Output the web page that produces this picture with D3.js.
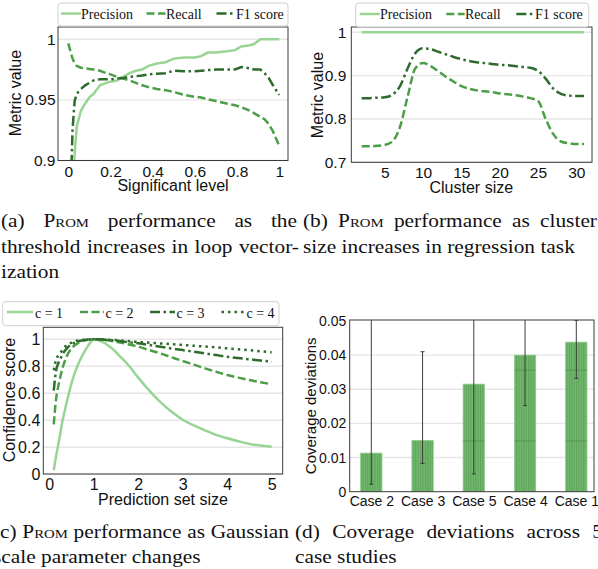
<!DOCTYPE html>
<html><head><meta charset="utf-8">
<script src="https://cdn.jsdelivr.net/npm/d3@7"></script>
<style>
html,body{margin:0;padding:0;background:#fff;}
svg{display:block;}
</style></head>
<body>
<svg id="fig" width="598" height="569"></svg>
<script>
// ---------------- DATA ----------------
// (a) significance level sweep
const sigLevels = [0, 0.01, 0.015, 0.02, 0.03, 0.04, 0.06, 0.08, 0.1, 0.12, 0.15, 0.18, 0.2, 0.23, 0.26, 0.29, 0.32, 0.35, 0.38, 0.42, 0.46, 0.5, 0.55, 0.6, 0.63, 0.66, 0.7, 0.75, 0.79, 0.82, 0.86, 0.88, 0.91, 0.93, 0.95, 0.97, 1.0];
const precisionA = [0.80, 0.83, 0.85, 0.87, 0.905, 0.928, 0.941, 0.947, 0.952, 0.955, 0.962, 0.964, 0.965, 0.966, 0.969, 0.972, 0.974, 0.975, 0.978, 0.980, 0.981, 0.984, 0.985, 0.985, 0.986, 0.989, 0.989, 0.990, 0.991, 0.994, 0.995, 0.996, 1.0, 1.0, 1.0, 1.0, 1.0];
const recallA = [0.9965, 0.99, 0.987, 0.984, 0.980, 0.978, 0.9765, 0.976, 0.9755, 0.975, 0.974, 0.972, 0.971, 0.969, 0.9675, 0.966, 0.964, 0.962, 0.9605, 0.959, 0.958, 0.9565, 0.954, 0.9525, 0.952, 0.9505, 0.949, 0.947, 0.9455, 0.944, 0.941, 0.939, 0.936, 0.934, 0.930, 0.924, 0.912];
const f1A = [0.80, 0.85, 0.895, 0.925, 0.949, 0.955, 0.959, 0.962, 0.964, 0.966, 0.967, 0.967, 0.967, 0.9675, 0.968, 0.969, 0.9695, 0.970, 0.971, 0.9715, 0.972, 0.974, 0.9735, 0.9735, 0.974, 0.9745, 0.975, 0.975, 0.975, 0.977, 0.976, 0.975, 0.975, 0.972, 0.968, 0.962, 0.954];
const xTicksA = [0, 0.2, 0.4, 0.6, 0.8, 1];
const yTicksA = [0.9, 0.95, 1];

// (b) cluster size sweep
const clusterSizes = [2,3,4,5,6,7,8,9,10,11,12,13,14,15,16,17,18,19,20,21,22,23,24,25,26,27,28,29,30,31];
const precisionB = clusterSizes.map(() => 1.0);
const recallB = [0.737, 0.737, 0.738, 0.740, 0.748, 0.782, 0.852, 0.917, 0.929, 0.922, 0.910, 0.897, 0.886, 0.876, 0.870, 0.866, 0.864, 0.862, 0.859, 0.857, 0.855, 0.852, 0.848, 0.842, 0.800, 0.765, 0.748, 0.744, 0.742, 0.742];
const f1B = [0.848, 0.848, 0.849, 0.850, 0.856, 0.876, 0.917, 0.952, 0.963, 0.961, 0.955, 0.949, 0.943, 0.938, 0.934, 0.931, 0.929, 0.927, 0.925, 0.924, 0.922, 0.920, 0.918, 0.911, 0.893, 0.870, 0.858, 0.854, 0.853, 0.853];
const xTicksB = [5, 10, 15, 20, 25, 30];
const yTicksB = [0.7, 0.8, 0.9, 1];

// (c) Gaussian scale parameter
const setSizes = [0.1, 0.15, 0.2, 0.25, 0.3, 0.4, 0.5, 0.6, 0.7, 0.8, 0.9, 1.0, 1.2, 1.4, 1.6, 1.8, 2.0, 2.25, 2.5, 2.75, 3.0, 3.25, 3.5, 3.75, 4.0, 4.25, 4.5, 4.75, 5.0];
const conf_c1 = [0.03, 0.13, 0.217, 0.31, 0.40, 0.545, 0.675, 0.775, 0.852, 0.915, 0.965, 1.0, 0.98, 0.935, 0.87, 0.80, 0.716, 0.62, 0.534, 0.463, 0.404, 0.362, 0.326, 0.292, 0.267, 0.245, 0.225, 0.213, 0.204];
const conf_c2 = [0.37, 0.55, 0.65, 0.725, 0.79, 0.88, 0.933, 0.962, 0.981, 0.992, 0.998, 1.0, 0.997, 0.988, 0.976, 0.961, 0.945, 0.92, 0.895, 0.867, 0.839, 0.812, 0.785, 0.76, 0.735, 0.716, 0.698, 0.682, 0.667];
const conf_c3 = [0.62, 0.765, 0.82, 0.855, 0.89, 0.935, 0.962, 0.978, 0.989, 0.995, 0.999, 1.0, 0.998, 0.993, 0.986, 0.978, 0.97, 0.958, 0.945, 0.932, 0.92, 0.908, 0.895, 0.883, 0.871, 0.861, 0.852, 0.843, 0.834];
const conf_c4 = [0.77, 0.845, 0.88, 0.90, 0.925, 0.958, 0.975, 0.988, 0.994, 0.997, 0.999, 1.0, 0.999, 0.996, 0.992, 0.986, 0.98, 0.975, 0.969, 0.964, 0.958, 0.952, 0.946, 0.94, 0.933, 0.926, 0.919, 0.911, 0.904];
const xTicksC = [0, 1, 2, 3, 4, 5];
const yTicksC = [0, 0.2, 0.4, 0.6, 0.8, 1];
const legendC = ["c = 1", "c = 2", "c = 3", "c = 4"];

// (d) coverage deviations
const cases = ["Case 2", "Case 3", "Case 5", "Case 4", "Case 1"];
const coverageDev = [0.0113, 0.0150, 0.0315, 0.0400, 0.0438];
const errLow = [0.0022, 0.0083, 0.0052, 0.0252, 0.0332];
const errHigh = [0.060, 0.041, 0.060, 0.058, 0.0502];
const innerLevels = [[], [], [0.0149], [0.0149, 0.0356], [0.0149, 0.0356]];
const yTicksD = [0, 0.01, 0.02, 0.03, 0.04, 0.05];

const legendAB = ["Precision", "Recall", "F1 score"];

// captions (one array per printed line)
const captionLines = [
  ["(a)", "Prom", "performance", "as", "the"],
  ["threshold", "increases", "in", "loop", "vector-"],
  ["ization"],
  ["(b)", "Prom", "performance", "as", "cluster"],
  ["size", "increases", "in", "regression", "task"],
  ["(c)", "Prom", "performance", "as", "Gaussian"],
  ["scale", "parameter", "changes"],
  ["(d)", "Coverage", "deviations", "across", "5"],
  ["case", "studies"]
];

// ---------------- STYLE / LAYOUT ----------------
const SANS = "'Liberation Sans', Arial, sans-serif";
const SERIF = "'Liberation Serif', 'Times New Roman', serif";
const colLight = "#98d594", colMid = "#4c9e48", colDark = "#2f6b2c";
const LW = 2.5;
const DASH = "8,3.5", DASHDOT = "10,3.5,2.5,3.5", DOT = "2.5,4";

const svg = d3.select("#fig");
const defs = svg.append("defs");

function makePanel(cfg) {
  const g = svg.append("g");
  const [fx0, fx1] = cfg.frameX, [fy0, fy1] = cfg.frameY;
  const clipId = "clip-" + cfg.id;
  defs.append("clipPath").attr("id", clipId).append("rect")
    .attr("x", fx0).attr("y", fy0).attr("width", fx1 - fx0).attr("height", fy1 - fy0);
  g.append("g").selectAll("line").data(cfg.yTicks).join("line")
    .attr("x1", fx0).attr("x2", fx1)
    .attr("y1", d => cfg.y(d)).attr("y2", d => cfg.y(d))
    .attr("stroke", "#e6e6e6").attr("stroke-width", 1.4);
  const plot = g.append("g").attr("clip-path", `url(#${clipId})`);
  const yAx = g.append("g").attr("transform", `translate(${fx0},0)`)
    .call(d3.axisLeft(cfg.y).tickValues(cfg.yLabels || cfg.yTicks).tickFormat(d => String(d)).tickSize(0).tickPadding(cfg.yPad));
  yAx.select(".domain").remove();
  yAx.attr("font-family", SANS).attr("font-size", cfg.tickFs).attr("color", "#111");
  const xAx = g.append("g").attr("transform", `translate(0,${fy1})`)
    .call(d3.axisBottom(cfg.x).tickValues(cfg.xTicks).tickFormat(cfg.xFmt || (d => String(d))).tickSize(0).tickPadding(cfg.xPad));
  xAx.select(".domain").remove();
  xAx.attr("font-family", SANS).attr("font-size", cfg.tickFs).attr("color", "#111");
  if (cfg.xLabel) {
    g.append("text").attr("x", cfg.xLabel[1]).attr("y", cfg.xLabel[2])
      .attr("text-anchor", "middle").attr("font-family", SANS).attr("font-size", cfg.labelFs)
      .attr("fill", "#111").text(cfg.xLabel[0]);
  }
  g.append("text").attr("transform", `translate(${cfg.yLabel[1]},${cfg.yLabel[2]}) rotate(-90)`)
    .attr("text-anchor", "middle").attr("dominant-baseline", "central")
    .attr("font-family", SANS).attr("font-size", cfg.yLabelFs || cfg.labelFs).attr("fill", "#111").text(cfg.yLabel[0]);
  const finish = () => {
    g.append("rect").attr("x", fx0).attr("y", fy0).attr("width", fx1 - fx0).attr("height", fy1 - fy0)
      .attr("fill", "none").attr("stroke", "#3a3a3a").attr("stroke-width", 1);
  };
  return { g, plot, finish };
}

function drawLine(plot, xs, ys, x, y, color, dash, curve) {
  plot.append("path").datum(ys)
    .attr("d", d3.line().x((d, i) => x(xs[i])).y(d => y(d)).curve(curve || d3.curveLinear))
    .attr("fill", "none").attr("stroke", color).attr("stroke-width", LW)
    .attr("stroke-dasharray", dash || null);
}

function drawLegend(box, items) {
  const g = svg.append("g");
  g.append("rect").attr("x", box.x).attr("y", box.y).attr("width", box.w).attr("height", box.h)
    .attr("rx", 3).attr("fill", "#fff").attr("stroke", "#cfcfcf").attr("stroke-width", 1);
  items.forEach(it => {
    g.append("line").attr("x1", it.lx0).attr("x2", it.lx1).attr("y1", box.ly).attr("y2", box.ly)
      .attr("stroke", it.color).attr("stroke-width", LW).attr("stroke-dasharray", it.dash || null);
    g.append("text").attr("x", it.tx).attr("y", box.ty).attr("font-family", SERIF)
      .attr("font-size", 14).attr("fill", "#111").text(it.label);
  });
}

// ---------------- PANEL A ----------------
{
  const x = d3.scaleLinear().domain([0, 1]).range([68.3, 279.3]);
  const y = d3.scaleLinear().domain([0.9, 1]).range([160.5, 39.2]);
  const P = makePanel({ id: "a", x, y, frameX: [58, 288], frameY: [27, 160.5],
    yTicks: yTicksA, xTicks: xTicksA, yPad: 2.5, xPad: 5, tickFs: 15.5, labelFs: 16,
    xLabel: ["Significant level", 173, 190.5], yLabel: ["Metric value", 15, 93] });
  drawLine(P.plot, sigLevels, precisionA, x, y, colLight, null);
  drawLine(P.plot, sigLevels, recallA, x, y, colMid, DASH);
  drawLine(P.plot, sigLevels, f1A, x, y, colDark, DASHDOT);
  P.finish();
  drawLegend({ x: 58, y: 3, w: 230, h: 23, ly: 13.5, ty: 18.5 }, [
    { lx0: 61, lx1: 81, tx: 81, color: colLight, label: legendAB[0] },
    { lx0: 146.5, lx1: 165.5, tx: 166, color: colMid, dash: DASH, label: legendAB[1] },
    { lx0: 216.5, lx1: 235.5, tx: 236, color: colDark, dash: DASHDOT, label: legendAB[2] }
  ]);
}

// ---------------- PANEL B ----------------
{
  const x = d3.scaleLinear().domain([5, 30]).range([384.7, 576.3]);
  const y = d3.scaleLinear().domain([0.7, 1]).range([162.3, 32.3]);
  const P = makePanel({ id: "b", x, y, frameX: [351.3, 592], frameY: [27, 162.3],
    yTicks: yTicksB, xTicks: xTicksB, yPad: 5, xPad: 5, tickFs: 15.5, labelFs: 16,
    xLabel: ["Cluster size", 471.3, 193], yLabel: ["Metric value", 317, 95] });
  drawLine(P.plot, clusterSizes, precisionB, x, y, colLight, null, d3.curveMonotoneX);
  drawLine(P.plot, clusterSizes, recallB, x, y, colMid, DASH, d3.curveMonotoneX);
  drawLine(P.plot, clusterSizes, f1B, x, y, colDark, DASHDOT, d3.curveMonotoneX);
  P.finish();
  drawLegend({ x: 355.7, y: 3, w: 233, h: 24, ly: 14, ty: 18.8 }, [
    { lx0: 359.7, lx1: 379.7, tx: 380, color: colLight, label: legendAB[0] },
    { lx0: 446.3, lx1: 464.7, tx: 465, color: colMid, dash: DASH, label: legendAB[1] },
    { lx0: 516.3, lx1: 534.7, tx: 535, color: colDark, dash: DASHDOT, label: legendAB[2] }
  ]);
}

// ---------------- PANEL C ----------------
{
  const x = d3.scaleLinear().domain([0, 5]).range([49.3, 271.7]);
  const y = d3.scaleLinear().domain([0, 1]).range([474.3, 339.3]);
  const P = makePanel({ id: "c", x, y, frameX: [43.3, 282.7], frameY: [327.3, 474],
    yTicks: yTicksC, xTicks: xTicksC, yPad: 3, xPad: 5, tickFs: 16, labelFs: 16,
    xLabel: ["Prediction set size", 163, 504.5], yLabel: ["Confidence score", 9, 400] });
  drawLine(P.plot, setSizes, conf_c1, x, y, colLight, null, d3.curveMonotoneX);
  drawLine(P.plot, setSizes, conf_c2, x, y, colMid, DASH, d3.curveMonotoneX);
  drawLine(P.plot, setSizes, conf_c3, x, y, colDark, DASHDOT, d3.curveMonotoneX);
  drawLine(P.plot, setSizes, conf_c4, x, y, colDark, DOT, d3.curveMonotoneX);
  P.finish();
  drawLegend({ x: 2.7, y: 301.7, w: 276.3, h: 24, ly: 312, ty: 317.7 }, [
    { lx0: 7, lx1: 33, tx: 35, color: colLight, label: legendC[0] },
    { lx0: 80, lx1: 104, tx: 105.5, color: colMid, dash: DASH, label: legendC[1] },
    { lx0: 150, lx1: 175, tx: 176.5, color: colDark, dash: DASHDOT, label: legendC[2] },
    { lx0: 221.5, lx1: 245, tx: 246.5, color: colDark, dash: DOT, label: legendC[3] }
  ]);
}

// ---------------- PANEL D ----------------
{
  const x = d3.scaleLinear().domain([0, 4]).range([371.3, 576.3]);
  const y = d3.scaleLinear().domain([0, 0.05]).range([491.7, 321]);
  const pat = defs.append("pattern").attr("id", "hatch").attr("patternUnits", "userSpaceOnUse")
    .attr("width", 2.4).attr("height", 10);
  pat.append("rect").attr("width", 2.4).attr("height", 10).attr("fill", "#72b96e");
  pat.append("line").attr("x1", 0.6).attr("x2", 0.6).attr("y1", 0).attr("y2", 10)
    .attr("stroke", "#5b9f57").attr("stroke-width", 0.9);
  const P = makePanel({ id: "d", x, y, frameX: [349.7, 594], frameY: [320, 491.7],
    yTicks: yTicksD.slice(1, 5), yLabels: yTicksD, xTicks: [0, 1, 2, 3, 4], xFmt: i => cases[i], yPad: 3.4, xPad: 4,
    tickFs: 14, labelFs: 15, yLabel: ["Coverage deviations", 310.5, 405.8] });
  const hw = 0.208;
  P.plot.selectAll("rect.bar").data(coverageDev).join("rect").attr("class", "bar")
    .attr("x", (d, i) => x(i - hw)).attr("width", (d, i) => x(i + hw) - x(i - hw))
    .attr("y", d => y(d)).attr("height", d => y(0) - y(d))
    .attr("fill", "url(#hatch)").attr("stroke", "#8fcc8a").attr("stroke-width", 0.8);
  innerLevels.forEach((lv, i) => lv.forEach(v => {
    P.plot.append("line").attr("x1", x(i - hw)).attr("x2", x(i + hw)).attr("y1", y(v)).attr("y2", y(v))
      .attr("stroke", "#4f8f4b").attr("stroke-width", 1).attr("opacity", 0.7);
  }));
  coverageDev.forEach((v, i) => {
    P.plot.append("line").attr("x1", x(i)).attr("x2", x(i)).attr("y1", y(errLow[i])).attr("y2", y(errHigh[i]))
      .attr("stroke", "#3c3c3c").attr("stroke-width", 1);
    [errLow[i], errHigh[i]].forEach(e => {
      P.plot.append("line").attr("x1", x(i) - 2).attr("x2", x(i) + 2).attr("y1", y(e)).attr("y2", y(e))
        .attr("stroke", "#3c3c3c").attr("stroke-width", 1);
    });
  });
  P.finish();
}

// ---------------- CAPTIONS ----------------
const capLayout = [
  { x0: 1, x1: 297, y: 227, j: true },
  { x0: 1, x1: 299, y: 252.5, j: true },
  { x0: 1, y: 278, j: false },
  { x0: 303, x1: 597, y: 227, j: true },
  { x0: 303, y: 252.5, j: false },
  { x0: -7, x1: 289, y: 537.5, j: true },
  { x0: -7, y: 562.5, j: false },
  { x0: 295, x1: 603, y: 537.5, j: true },
  { x0: 295, y: 562.5, j: false }
];
const CAP_FS = 19, SX = 1.125;
captionLines.forEach((words, li) => {
  const L = capLayout[li];
  const t = svg.append("text").attr("transform", `translate(${L.x0},${L.y}) scale(${SX},1)`)
    .attr("font-family", SERIF).attr("font-size", CAP_FS).attr("fill", "#111");
  const spans = words.map(w => {
    const s = t.append("tspan").text(w);
    if (w === "Prom") s.style("font-variant", "small-caps");
    return s;
  });
  const widths = spans.map(s => s.node().getComputedTextLength());
  const total = d3.sum(widths);
  let gap = CAP_FS * 0.25;
  if (L.j && words.length > 1) gap = ((L.x1 - L.x0) / SX - total) / (words.length - 1);
  let cx = 0;
  spans.forEach((s, i) => { s.attr("x", cx); cx += widths[i] + gap; });
});
</script>
</body></html>
